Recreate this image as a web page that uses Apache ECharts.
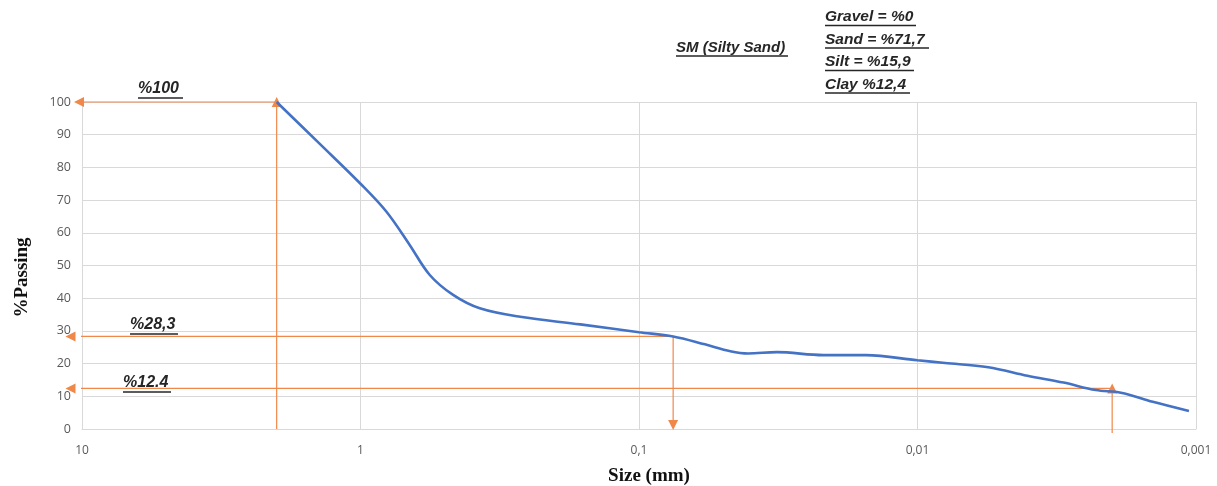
<!DOCTYPE html>
<html><head><meta charset="utf-8">
<script src="https://cdn.jsdelivr.net/npm/echarts@6/dist/echarts.min.js"></script>
<style>html,body{margin:0;padding:0;background:#fff}#c{width:1217px;height:486px}</style>
</head><body><div id="c"></div>
<script>
// Grain size distribution
const sizes   = [2, 1.4, 1, 0.808, 0.666, 0.564, 0.465, 0.373, 0.267, 0.1625, 0.1, 0.0754, 0.058, 0.047, 0.0406, 0.032, 0.0218, 0.0153, 0.01, 0.00796, 0.00557, 0.00403, 0.00299, 0.00229, 0.00186, 0.00143, 0.00106];
const passing = [100, 87.2, 75, 66.5, 56.3, 47.1, 41, 36.9, 34.3, 32, 29.6, 28.3, 25.9, 23.8, 23.1, 23.5, 22.6, 22.6, 21, 20.2, 18.9, 16.3, 14.2, 11.9, 11.1, 8.3, 5.5];
const xTicks = [10, 1, 0.1, 0.01, 0.001];
const xTickLabels = ['10', '1', '0,1', '0,01', '0,001'];
// Reading guides
const guideSizes   = [2, 0.0754, 0.002];
const guidePassing = [100, 28.3, 12.4];
const guideLabels  = ['%100', '%28,3', '%12.4'];
const summaryTitle = 'SM (Silty Sand)';
const summaryLines = ['Gravel = %0', 'Sand = %71,7', 'Silt = %15,9', 'Clay %12,4'];

const chart = echarts.init(document.getElementById('c'), null, {renderer: 'canvas'});
const ORANGE = '#F0884A';
const TXT = '#262626';
const LEFT = 82, TOP = 102, RIGHT = 21, BOTTOM = 57;

const graphics = [];
function addText(text, x, y, size, widthPx) {
  graphics.push({type: 'text', x: x, y: y, style: {text: text, font: 'italic bold ' + size + 'px "Liberation Sans", Arial', fill: TXT, textVerticalAlign: 'top'}, silent: true});
  graphics.push({type: 'line', shape: {x1: x, y1: y + size + 1, x2: x + widthPx, y2: y + size + 1}, style: {stroke: TXT, lineWidth: 1.4}, silent: true});
}

// guide segment: from start (no symbol) to end (arrow head rotated)
function guide(from, to, rot) {
  return {
    type: 'line', clip: false, silent: true, z: 3,
    lineStyle: {color: ORANGE, width: 1.2},
    itemStyle: {color: ORANGE},
    showSymbol: true,
    data: [
      {value: from, symbol: 'none'},
      {value: to, symbol: 'triangle', symbolSize: [10, 10], symbolRotate: rot}
    ]
  };
}

const guideSeries = [];
guideSizes.forEach((s, i) => {
  const p = guidePassing[i];
  guideSeries.push(guide([s, p], [i === 0 ? 10.25 : 11, p], 90));
});
guideSeries.push(guide([guideSizes[0], 0], [guideSizes[0], guidePassing[0]], 0));
guideSeries.push(guide([guideSizes[1], guidePassing[1]], [guideSizes[1], 1.2], 180));
guideSeries.push(guide([guideSizes[2], -1.2], [guideSizes[2], guidePassing[2]], 0));

const opt = {
  animation: false,
  grid: {left: LEFT, right: RIGHT, top: TOP, bottom: BOTTOM, containLabel: false, outerBoundsMode: 'none'},
  xAxis: {
    type: 'log', logBase: 10, min: 0.001, max: 10, inverse: true,
    name: 'Size (mm)', nameLocation: 'middle', nameGap: 38,
    nameTextStyle: {fontFamily: '"Liberation Serif", serif', fontWeight: 'bold', fontSize: 19, color: '#111', padding: [0, 0, 0, 20]},
    axisLine: {show: true, lineStyle: {color: '#d9d9d9', width: 1}},
    axisTick: {show: false},
    splitLine: {show: true, lineStyle: {color: '#d9d9d9', width: 1}},
    axisLabel: {
      color: '#595959', fontSize: 12, fontFamily: '"Open Sans", sans-serif', margin: 16,
      showMinLabel: true, showMaxLabel: true,
      formatter: v => { const i = xTicks.findIndex(t => Math.abs(Math.log10(t) - Math.log10(v)) < 1e-6); return i >= 0 ? xTickLabels[i] : ''; }
    }
  },
  yAxis: {
    type: 'value', min: 0, max: 100, interval: 10,
    name: '%Passing', nameLocation: 'middle', nameGap: 50, nameRotate: 90,
    nameTextStyle: {fontFamily: '"Liberation Serif", serif', fontWeight: 'bold', fontSize: 19, color: '#111', padding: [0, 24, 0, 0]},
    axisLine: {show: false}, axisTick: {show: false},
    splitLine: {show: true, lineStyle: {color: '#d9d9d9', width: 1}},
    axisLabel: {color: '#595959', fontSize: 12.5, fontFamily: '"Open Sans", sans-serif', margin: 11}
  },
  series: [
    {
      type: 'line', name: 'curve', smooth: 0.35, showSymbol: false, symbol: 'none',
      lineStyle: {color: '#4472C4', width: 2.6}, z: 5,
      data: sizes.map((s, i) => [s, passing[i]])
    }
  ].concat(guideSeries)
};
chart.setOption(opt);

// Text annotations
addText(guideLabels[0], 138, 81, 16, 45);
addText(guideLabels[1], 130, 317, 16, 48);
addText(guideLabels[2], 123, 375, 16, 48);
addText(summaryTitle, 676, 40, 15, 112);
summaryLines.forEach((t, i) => {
  const widths = [91, 104, 89, 85];
  addText(t, 825, 9 + i * 22.5, 15.5, widths[i]);
});
chart.setOption({graphic: graphics});
</script>
</body></html>
